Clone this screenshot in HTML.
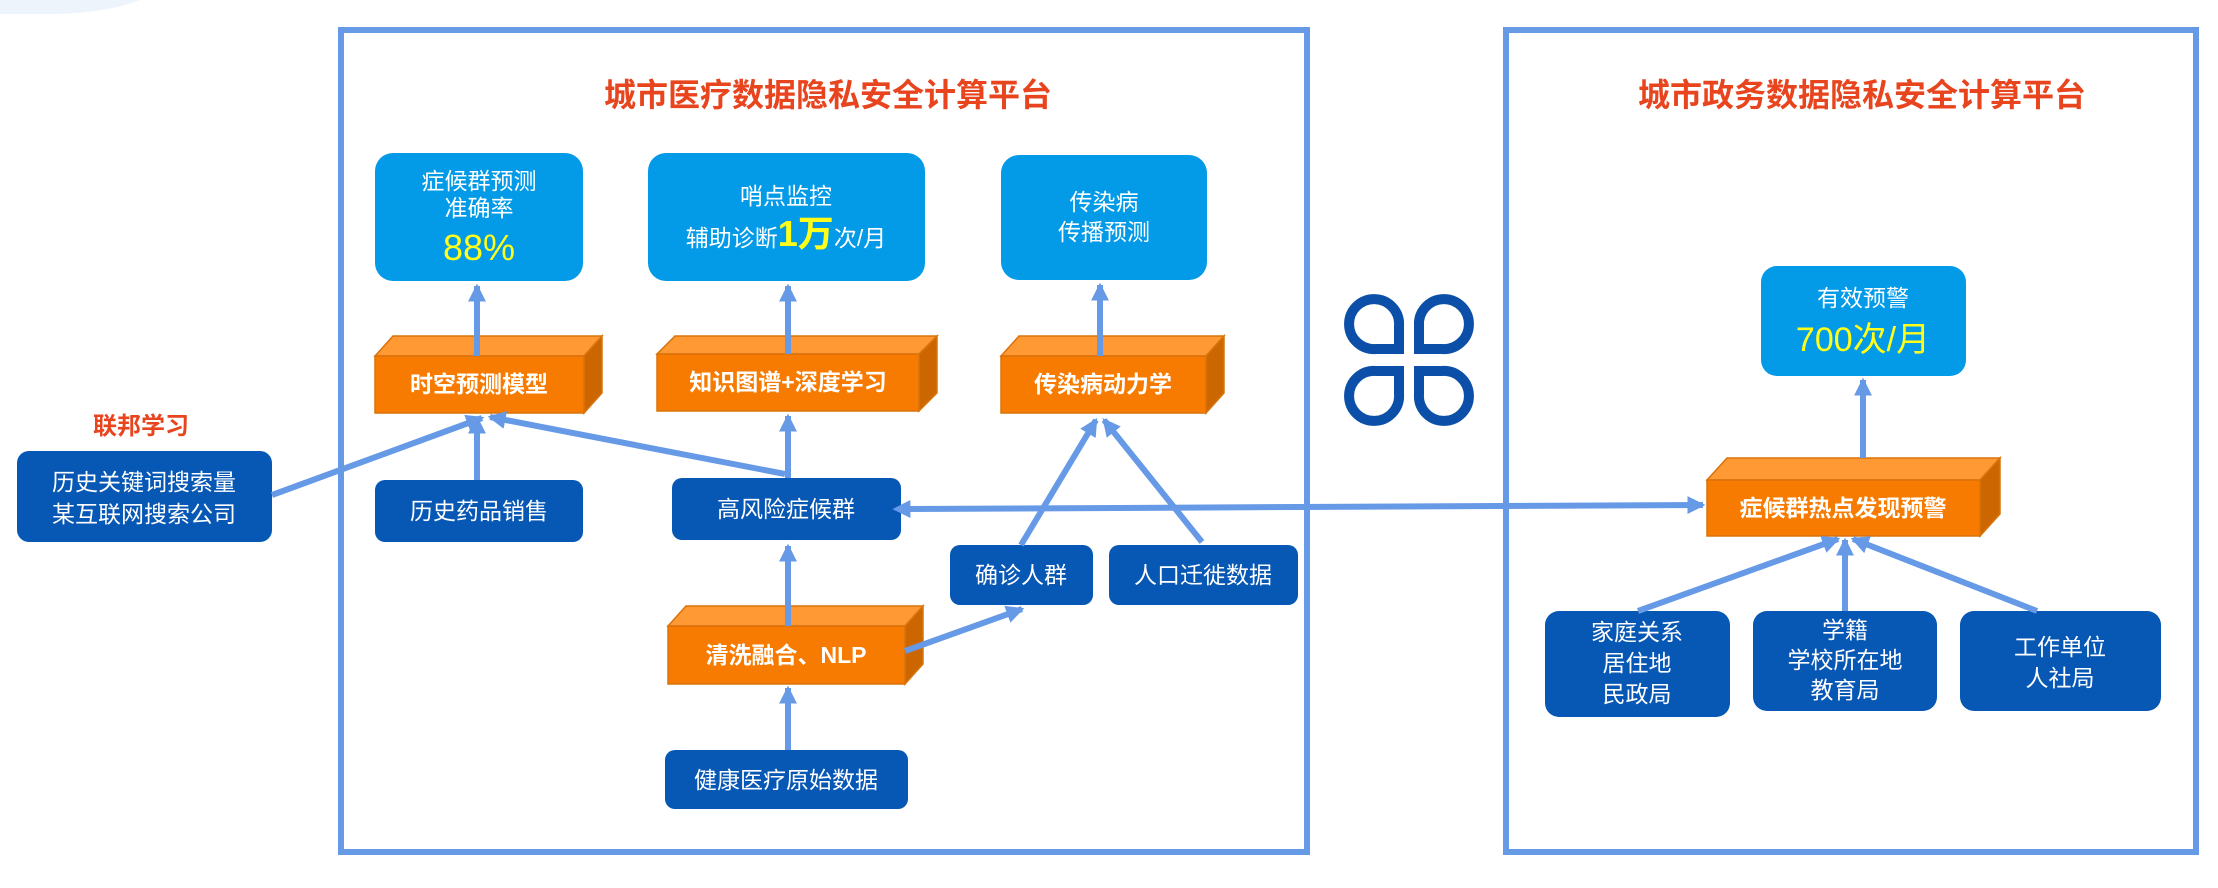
<!DOCTYPE html>
<html><head><meta charset="utf-8"><style>
html,body{margin:0;padding:0;background:#fff;}
svg{display:block;}
text{font-family:"Liberation Sans","Noto Sans CJK SC",sans-serif;}
</style></head><body>
<svg width="2218" height="888" viewBox="0 0 2218 888" xmlns="http://www.w3.org/2000/svg">
<defs>
<marker id="ah" markerWidth="4" markerHeight="4" refX="2.6" refY="2" orient="auto" markerUnits="strokeWidth">
<path d="M0,0.5 L3,2 L0,3.5 Z" fill="#6699e6"/>
</marker>
<marker id="ahs" markerWidth="4" markerHeight="4" refX="0.4" refY="2" orient="auto-start-reverse" markerUnits="strokeWidth">
<path d="M0,0.5 L3,2 L0,3.5 Z" fill="#6699e6"/>
</marker>
</defs>
<path d="M0,0 L140,0 Q110,12 60,14 L0,14 Z" fill="#eef4fb"/>
<rect x="341" y="30" width="966" height="822" fill="none" stroke="#6699e6" stroke-width="6"/>
<rect x="1506" y="30" width="690" height="822" fill="none" stroke="#6699e6" stroke-width="6"/>
<text x="828" y="106" font-size="32" font-weight="bold" fill="#e8451f" text-anchor="middle">城市医疗数据隐私安全计算平台</text>
<text x="1862" y="106" font-size="32" font-weight="bold" fill="#e8451f" text-anchor="middle">城市政务数据隐私安全计算平台</text>
<text x="141" y="434" font-size="24" font-weight="bold" fill="#e8451f" text-anchor="middle">联邦学习</text>

<g fill="#039be8">
<rect x="375" y="153" width="208" height="128" rx="18"/>
<rect x="648" y="153" width="277" height="128" rx="18"/>
<rect x="1001" y="155" width="206" height="125" rx="18"/>
<rect x="1761" y="266" width="205" height="110" rx="16"/>
</g>
<g fill="#fff" font-size="23" text-anchor="middle">
<text x="479" y="189">症候群预测</text>
<text x="479" y="216">准确率</text>
<text x="479" y="260" font-size="36" fill="#ffff1a">88%</text>
<text x="786" y="204">哨点监控</text>
<text x="786" y="246">辅助诊断<tspan font-size="36" font-weight="bold" fill="#ffff1a">1万</tspan>次/月</text>
<text x="1104" y="210">传染病</text>
<text x="1104" y="240">传播预测</text>
<text x="1863" y="306">有效预警</text>
<text x="1863" y="351" font-size="34" fill="#ffff1a">700次/月</text>
</g>

<g stroke="#d9730a" stroke-width="1.5">
<g>
<polygon points="375,356 393,336 602,336 584,356" fill="#ff9933"/>
<polygon points="584,356 602,336 602,393 584,413" fill="#cc6600"/>
<rect x="375" y="356" width="209" height="57" fill="#f77b00"/>
</g>
<g>
<polygon points="657,354 675,336 937,336 919,354" fill="#ff9933"/>
<polygon points="919,354 937,336 937,393 919,411" fill="#cc6600"/>
<rect x="657" y="354" width="262" height="57" fill="#f77b00"/>
</g>
<g>
<polygon points="1001,356 1019,336 1224,336 1206,356" fill="#ff9933"/>
<polygon points="1206,356 1224,336 1224,393 1206,413" fill="#cc6600"/>
<rect x="1001" y="356" width="205" height="57" fill="#f77b00"/>
</g>
<g>
<polygon points="1707,480 1727,458 2000,458 1980,480" fill="#ff9933"/>
<polygon points="1980,480 2000,458 2000,514 1980,536" fill="#cc6600"/>
<rect x="1707" y="480" width="273" height="56" fill="#f77b00"/>
</g>
<g>
<polygon points="668,626 686,606 923,606 905,626" fill="#ff9933"/>
<polygon points="905,626 923,606 923,664 905,684" fill="#cc6600"/>
<rect x="668" y="626" width="237" height="58" fill="#f77b00"/>
</g>
</g>
<g fill="#fff" font-size="23" font-weight="bold" text-anchor="middle">
<text x="479" y="392">时空预测模型</text>
<text x="788" y="390">知识图谱+深度学习</text>
<text x="1103" y="392">传染病动力学</text>
<text x="1843" y="516">症候群热点发现预警</text>
<text x="786" y="663">清洗融合、NLP</text>
</g>

<g fill="#0757b5">
<rect x="17" y="451" width="255" height="91" rx="12"/>
<rect x="375" y="480" width="208" height="62" rx="10"/>
<rect x="672" y="478" width="229" height="62" rx="10"/>
<rect x="950" y="545" width="143" height="60" rx="10"/>
<rect x="1109" y="545" width="189" height="60" rx="10"/>
<rect x="665" y="750" width="243" height="59" rx="10"/>
<rect x="1545" y="611" width="185" height="106" rx="14"/>
<rect x="1753" y="611" width="184" height="100" rx="14"/>
<rect x="1960" y="611" width="201" height="100" rx="14"/>
</g>
<g fill="#fff" font-size="23" text-anchor="middle">
<text x="144" y="490">历史关键词搜索量</text>
<text x="144" y="522">某互联网搜索公司</text>
<text x="479" y="519">历史药品销售</text>
<text x="786" y="517">高风险症候群</text>
<text x="1021" y="583">确诊人群</text>
<text x="1203" y="583">人口迁徙数据</text>
<text x="786" y="788">健康医疗原始数据</text>
<text x="1637" y="640">家庭关系</text>
<text x="1637" y="671">居住地</text>
<text x="1637" y="702">民政局</text>
<text x="1845" y="638">学籍</text>
<text x="1845" y="668">学校所在地</text>
<text x="1845" y="698">教育局</text>
<text x="2060" y="655">工作单位</text>
<text x="2060" y="686">人社局</text>
</g>

<g fill="none" stroke="#0b4fa8" stroke-width="10">
<path d="M1399,349 L1399,326 A25,25 0 1 0 1376,349 Z"/>
<path d="M1419,349 L1419,326 A25,25 0 1 1 1442,349 Z"/>
<path d="M1399,371 L1399,394 A25,25 0 1 1 1376,371 Z"/>
<path d="M1419,371 L1419,394 A25,25 0 1 0 1442,371 Z"/>
</g>

<g stroke="#6699e6" stroke-width="6" fill="none" marker-end="url(#ah)">
<line x1="477" y1="356" x2="477" y2="286"/>
<line x1="788" y1="354" x2="788" y2="286"/>
<line x1="1100" y1="356" x2="1100" y2="285"/>
<line x1="1863" y1="458" x2="1863" y2="380"/>
<line x1="477" y1="480" x2="477" y2="418"/>
<line x1="788" y1="478" x2="788" y2="416"/>
<line x1="785" y1="474" x2="490" y2="417"/>
<line x1="272" y1="495" x2="482" y2="418"/>
<line x1="788" y1="626" x2="788" y2="546"/>
<line x1="788" y1="750" x2="788" y2="688"/>
<line x1="905" y1="651" x2="1022" y2="609"/>
<line x1="1021" y1="545" x2="1096" y2="420"/>
<line x1="1202" y1="542" x2="1104" y2="420"/>
<line x1="1638" y1="611" x2="1838" y2="539"/>
<line x1="1845" y1="611" x2="1845" y2="540"/>
<line x1="2037" y1="611" x2="1853" y2="539"/>
<line x1="908" y1="509" x2="1703" y2="505" marker-start="url(#ahs)"/>
</g>
</svg>
</body></html>
